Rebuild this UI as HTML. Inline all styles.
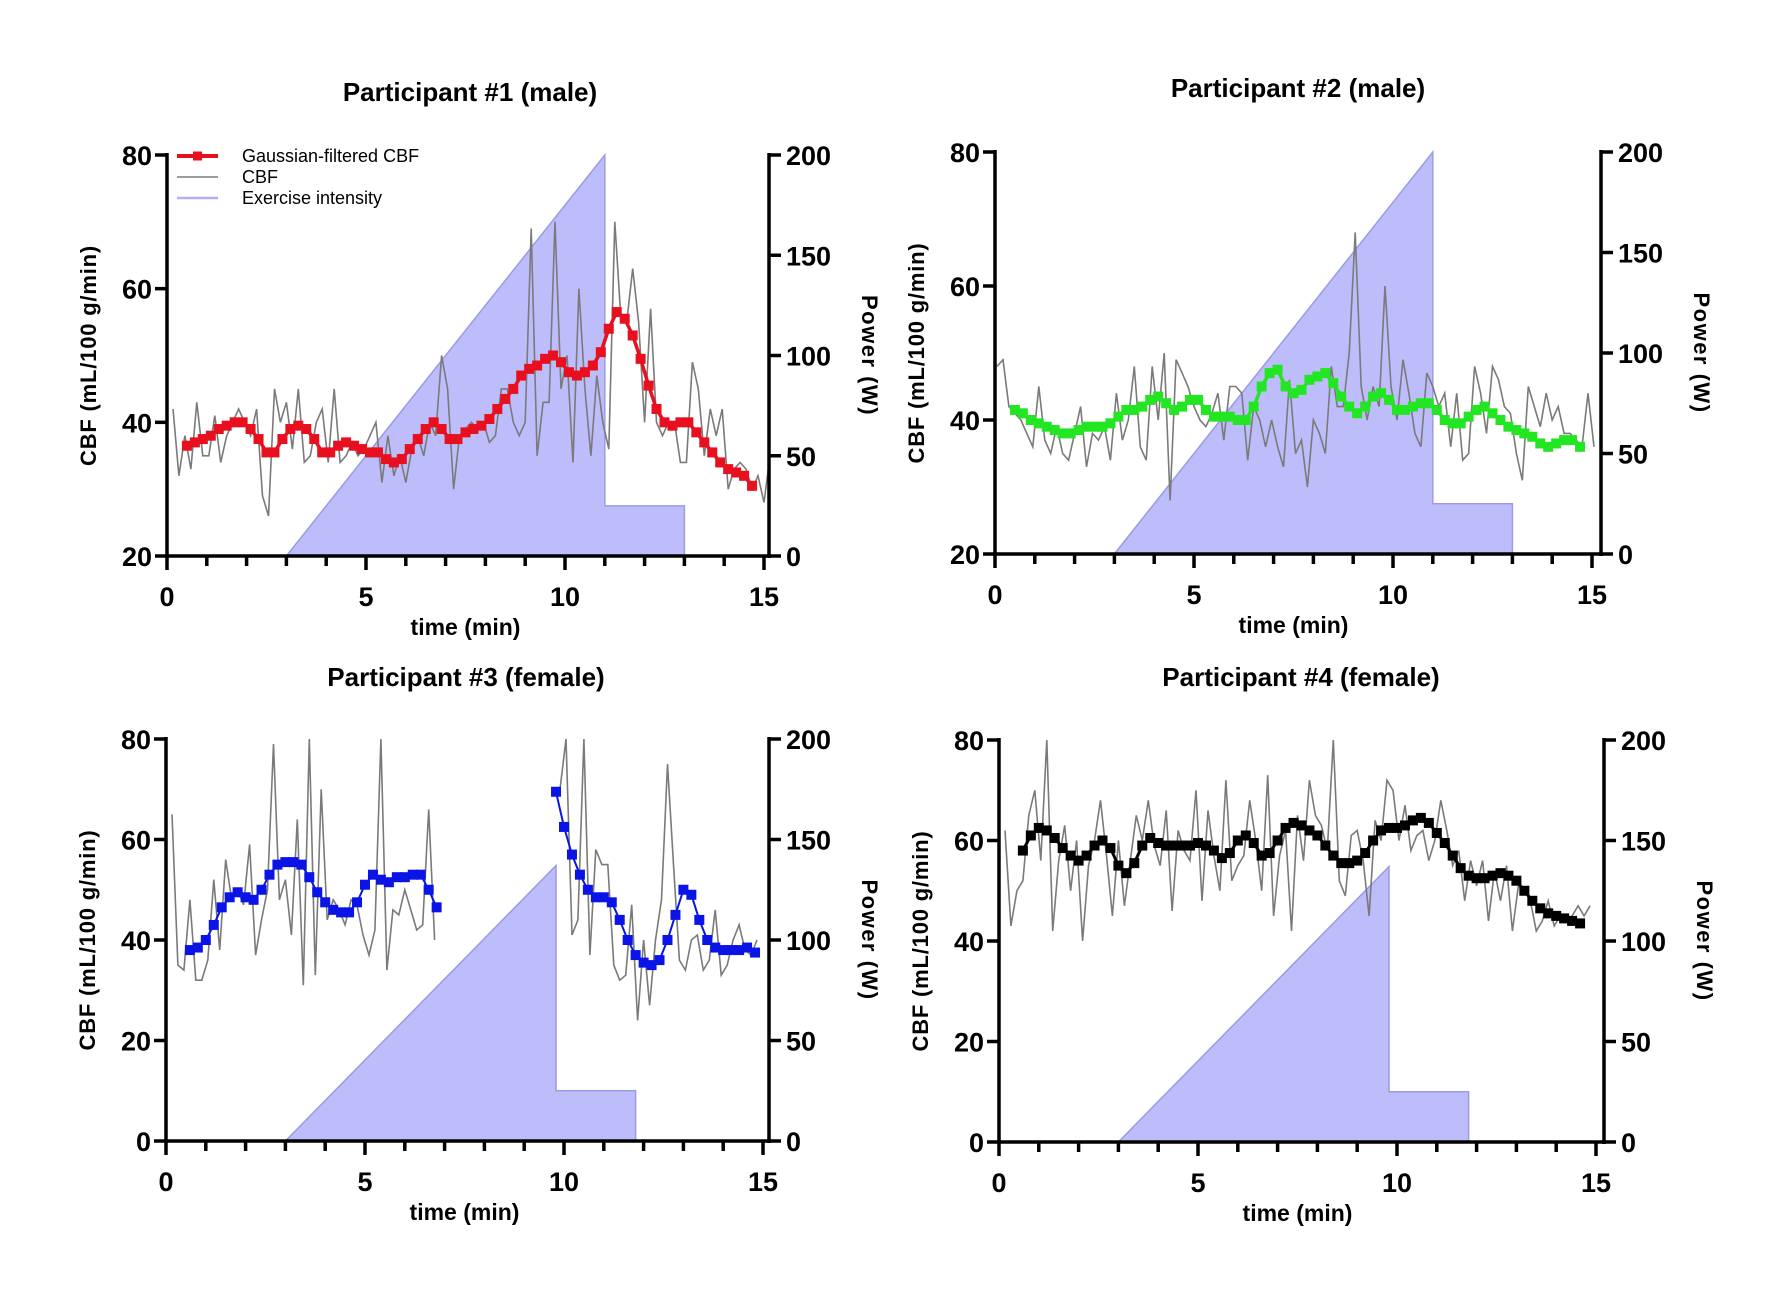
<!DOCTYPE html>
<html><head><meta charset="utf-8"><style>
html,body{margin:0;padding:0;background:#fff;}
svg{display:block;font-family:"Liberation Sans",Arial,sans-serif;}
</style></head><body>
<svg id="fig" width="1787" height="1291" viewBox="0 0 1787 1291" xmlns="http://www.w3.org/2000/svg"></svg>
<script>
// ---- data ----
const filtStep = 0.2;
const rawStep = 0.15;
const p1FiltStart = 0.5;
const p1Filt = [36.5,37,37.5,38,39,39.5,40,40,39,37.5,35.5,35.5,37.5,39,39.5,39,37.5,35.5,35.5,36.5,37,36.5,36,35.5,35.5,34.5,34,34.5,36,37.5,39,40,39,37.5,37.5,38.5,39,39.5,40.5,42,43.5,45,47,48,48.5,49.5,50,49,47.5,47,47.5,48.5,50.5,54,56.5,55.5,53,49.5,45.5,42,40,39.5,40,40,38.5,37,35.5,34,33,32.5,32,30.5];
const p1RawStart = 0.15;
const p1Raw = [42,32,38,33,43,35,35,41,34,38,40,42,40,38,42,29,26,45,40,43,36,45,34,35,40,42,34,45,34,35,37,35,36,38,40,31,38,32,35,31,36,38,35,40,38,50,45,30,38,39,40,39,40,37,38,45,45,40,38,40,69,35,43,43,70,45,50,34,60,45,35,47,40,36,70,56,55,63,55,40,57,40,38,40,40,34,34,49,45,35,42,38,42,30,33,34,33,30,32,28,35];
const p2FiltStart = 0.5;
const p2Filt = [41.5,41,40,39.5,39,38.5,38,38,38.5,39,39,39,39.5,40.5,41.5,41.5,42,43,43.5,42.5,41.5,42,43,43,41.5,40.5,40.5,40.5,40,40,42,45,47,47.5,45,44,44.5,46,46.5,47,45.5,43.5,42,41,42,43.5,44,43,41.5,41.5,42,42.5,42.5,41.5,40,39.5,39.5,40.5,41.5,42,41,40,39,38.5,38,37.5,36.5,36,36.5,37,37,36];
const p2RawStart = 0.05;
const p2Raw = [48,49,42,41,40,38,36,45,37,35,39,35,34,38,42,33,38,37,39,34,44,37,40,48,36,34,48,40,50,28,49,47,45,42,40,39,41,44,37,45,45,44,34,42,40,36,40,36,33,46,35,37,30,40,38,35,48,42,42,50,68,45,40,45,42,60,45,40,49,44,38,36,47,45,42,44,36,44,34,35,48,44,38,48,46,42,41,35,31,45,42,39,44,40,42,38,38,37,36,44,36];
const p3FiltStart = 0.6;
const p3Filt = [38,38.5,40,43,46.5,48.5,49.5,48.5,48,50,53,55,55.5,55.5,55,52.5,49.5,47.5,46,45.5,45.5,47.5,51,53,52,51.5,52.5,52.5,53,53,50,46.5,
 null,null,null,null,null,null,null,null,null,null,null,null,null,null,
 69.5,62.5,57,53,50,48.5,48.5,47.5,44,40,37,35.5,35,36,40,45,50,49,44,40,38.5,38,38,38,38.5,37.5];
const p3RawStart = 0.15;
const p3Raw = [65,35,34,48,32,32,36,52,38,56,48,50,47,59,37,44,50,79,48,52,41,64,31,80,33,70,44,48,46,43,48,47,41,37,42,80,34,46,45,50,46,42,43,66,40,
 null,null,null,null,null,null,null,null,null,null,null,null,null,null,null,null,null,null,null,null,
 70,80,41,44,80,37,58,55,55,35,32,33,47,24,40,27,40,48,75,55,36,34,40,41,34,36,46,33,35,40,43,38,37,40];
const p4FiltStart = 0.6;
const p4Filt = [58,61,62.5,62,60.5,58.5,57,56,57,59,60,58.5,55,53.5,55.5,59,60.5,59.5,59,59,59,59,59.5,59,58,56.5,57.5,60,61,59.5,57,57.5,60,62.5,63.5,63,62,61,59,57,55.5,55.5,56,57.5,60,62,62.5,62.5,63,64,64.5,63.5,61.5,59.5,57,54.5,53,52.5,52.5,53,53.5,53,52,50,48,46.5,45.5,45,44.5,44,43.5];
const p4RawStart = 0.15;
const p4Raw = [62,43,50,52,65,70,56,80,42,56,63,50,60,40,55,60,68,57,45,60,47,56,65,60,68,59,55,66,46,62,58,56,70,48,66,57,50,72,52,55,57,68,60,50,73,45,57,62,42,65,56,72,65,63,58,80,52,49,61,62,56,45,64,60,72,70,60,67,58,61,62,56,60,68,62,55,58,48,56,51,56,44,54,48,55,42,51,50,48,42,44,48,43,45,44,45,47,45,47];
const powTimesA = [0,3,11,11,13,13];
const powValsA = [0,0,200,25,25,0];
const powTimesB = [0,3,9.8,9.8,11.8,11.8];
const powValsB = [0,0,137,25,25,0];
const xTickLabels = ["0","5","10","15"];
const leftTicksA = [20,40,60,80];
const leftTicksB = [0,20,40,60,80];
const rightTicks = [0,50,100,150,200];

// ---- drawing ----
const NS = "http://www.w3.org/2000/svg";
const svg = document.getElementById("fig");
function mk(tag, attrs, parent){
  const e = document.createElementNS(NS, tag);
  for (const k in attrs) e.setAttribute(k, attrs[k]);
  (parent||svg).appendChild(e);
  return e;
}
function panel(cfg){
  const g = mk("g", {});
  
  
  const X = t => cfg.x0 + (cfg.x1 - cfg.x0) * t / 15;
  const Y = v => cfg.yBot - (cfg.yBot - cfg.yTop) * (v - cfg.yMin) / (80 - cfg.yMin);
  const P = w => cfg.yBot - (cfg.yBot - cfg.yTop) * w / 200;
  let d = "";
  cfg.powT.forEach((t,i)=>{ d += (i? "L":"M") + X(t).toFixed(1) + "," + P(cfg.powV[i]).toFixed(1); });
  const area = mk("path", {d: d + "Z", fill:"#bdbdfb", stroke:"#9a9ae6", "stroke-width":1.5}, g);
  
  
  const base = mk("line", {x1:X(cfg.powT[0]), x2:X(cfg.powT[1]), y1:P(0), y2:P(0), stroke:"#10105a", "stroke-width":3}, g);
  
  
  let rd = "", pen = false;
  cfg.raw.forEach((v,i)=>{
    if (v === null){ pen = false; return; }
    rd += (pen? "L":"M") + X(cfg.rawStart + i*rawStep).toFixed(1) + "," + Y(Math.min(v,80)).toFixed(1);
    pen = true;
  });
  const rawLine = mk("path", {d: rd, fill:"none", stroke:"#7a7a7a", "stroke-width":1.6}, g);
  
  
  let fd = ""; pen = false;
  cfg.filt.forEach((v,i)=>{
    if (v === null){ pen = false; return; }
    fd += (pen? "L":"M") + X(cfg.filtStart + i*filtStep).toFixed(1) + "," + Y(v).toFixed(1);
    pen = true;
  });
  const fl = mk("path", {d: fd, fill:"none", stroke:cfg.color, "stroke-width":cfg.lw}, g);
  
  
  cfg.filt.forEach((v,i)=>{
    if (v === null) return;
    const m = mk("rect", {x: X(cfg.filtStart + i*filtStep) - 5, y: Y(v) - 5, width:10, height:10, fill:cfg.color}, g);
    
    
  });
  const ax = mk("g", {stroke:"#000", "stroke-width":3.5, fill:"none"}, g);
  
  
  mk("line", {x1:cfg.x0, x2:cfg.x0, y1:cfg.yTop-2, y2:cfg.yBot+2}, ax);
  mk("line", {x1:cfg.x0-2, x2:cfg.xr+2, y1:cfg.yBot, y2:cfg.yBot}, ax);
  mk("line", {x1:cfg.xr, x2:cfg.xr, y1:cfg.yTop-2, y2:cfg.yBot+2}, ax);
  for (let t=0;t<=15;t++){
    const maj = t%5===0;
    mk("line", {x1:X(t), x2:X(t), y1:cfg.yBot, y2:cfg.yBot + (maj?14:10)}, ax);
  }
  cfg.lt.forEach(v=>{ mk("line", {x1:cfg.x0-12, x2:cfg.x0, y1:Y(v), y2:Y(v)}, ax); });
  rightTicks.forEach(w=>{ mk("line", {x1:cfg.xr, x2:cfg.xr+12, y1:P(w), y2:P(w)}, ax); });
  const tl = {"font-weight":"bold","font-size":27,fill:"#000"};
  xTickLabels.forEach((s,i)=>{
    const e = mk("text", Object.assign({x:X(i*5), y:cfg.yBot+50, "text-anchor":"middle"}, tl), g);
    e.textContent = s;
    
    
  });
  cfg.lt.forEach(v=>{
    const e = mk("text", Object.assign({x:cfg.x0-15, y:Y(v)+10, "text-anchor":"end"}, tl), g);
    e.textContent = String(v);
    
    
  });
  rightTicks.forEach(w=>{
    const e = mk("text", Object.assign({x:cfg.xr+17, y:P(w)+10, "text-anchor":"start"}, tl), g);
    e.textContent = String(w);
    
    
  });
  const xt = mk("text", {x:(cfg.x0+cfg.x1)/2, y:cfg.yBot+79, "text-anchor":"middle","font-weight":"bold","font-size":23}, g);
  xt.textContent = "time (min)";
  
  
  const cy = (cfg.yTop+cfg.yBot)/2;
  const yl = mk("text", {x:0,y:0,transform:`translate(${cfg.x0-71},${cy}) rotate(-90)`,"text-anchor":"middle","font-weight":"bold","font-size":22,"letter-spacing":"0.8"}, g);
  yl.textContent = "CBF (mL/100 g/min)";
  
  
  const yr = mk("text", {x:0,y:0,transform:`translate(${cfg.xr+93},${cy}) rotate(90)`,"text-anchor":"middle","font-weight":"bold","font-size":22,"letter-spacing":"1.5"}, g);
  yr.textContent = "Power (W)";
  
  
  const ti = mk("text", {x:cfg.tx, y:cfg.ty, "text-anchor":"middle","font-weight":"bold","font-size":26}, g);
  ti.textContent = cfg.title;
  
  
  return g;
}
panel({name:"panel-participant-1", x0:167,x1:764,xr:769,yTop:155,yBot:556,yMin:20,lt:leftTicksA,
  powT:powTimesA,powV:powValsA,raw:p1Raw,rawStart:p1RawStart,filt:p1Filt,filtStart:p1FiltStart,color:"#e8101e",lw:3.5,
  title:"Participant #1 (male)",tx:470,ty:101});
panel({name:"panel-participant-2", x0:995,x1:1592,xr:1601,yTop:152,yBot:554,yMin:20,lt:leftTicksA,
  powT:powTimesA,powV:powValsA,raw:p2Raw,rawStart:p2RawStart,filt:p2Filt,filtStart:p2FiltStart,color:"#22e622",lw:3.5,
  title:"Participant #2 (male)",tx:1298,ty:97});
panel({name:"panel-participant-3", x0:166,x1:763,xr:769,yTop:739,yBot:1141,yMin:0,lt:leftTicksB,
  powT:powTimesB,powV:powValsB,raw:p3Raw,rawStart:p3RawStart,filt:p3Filt,filtStart:p3FiltStart,color:"#0a14e6",lw:2,
  title:"Participant #3 (female)",tx:466,ty:686});
panel({name:"panel-participant-4", x0:999,x1:1596,xr:1604,yTop:740,yBot:1142,yMin:0,lt:leftTicksB,
  powT:powTimesB,powV:powValsB,raw:p4Raw,rawStart:p4RawStart,filt:p4Filt,filtStart:p4FiltStart,color:"#000000",lw:3,
  title:"Participant #4 (female)",tx:1301,ty:686});
const lg = mk("g", {});


const items = [["Gaussian-filtered CBF","#e8101e",4],["CBF","#7a7a7a",1.6],["Exercise intensity","#b0b0f6",2.5]];
items.forEach((it,i)=>{
  const y = 156 + i*21;
  const e = mk("g", {}, lg);
  
  
  mk("line", {x1:177,x2:218,y1:y,y2:y,stroke:it[1],"stroke-width":it[2]}, e);
  if (i===0) mk("rect", {x:193,y:y-4.5,width:9,height:9,fill:it[1]}, e);
  const t = mk("text", {x:242,y:y+6,"font-size":18,fill:"#000"}, e);
  t.textContent = it[0];
});
</script>
</body></html>
